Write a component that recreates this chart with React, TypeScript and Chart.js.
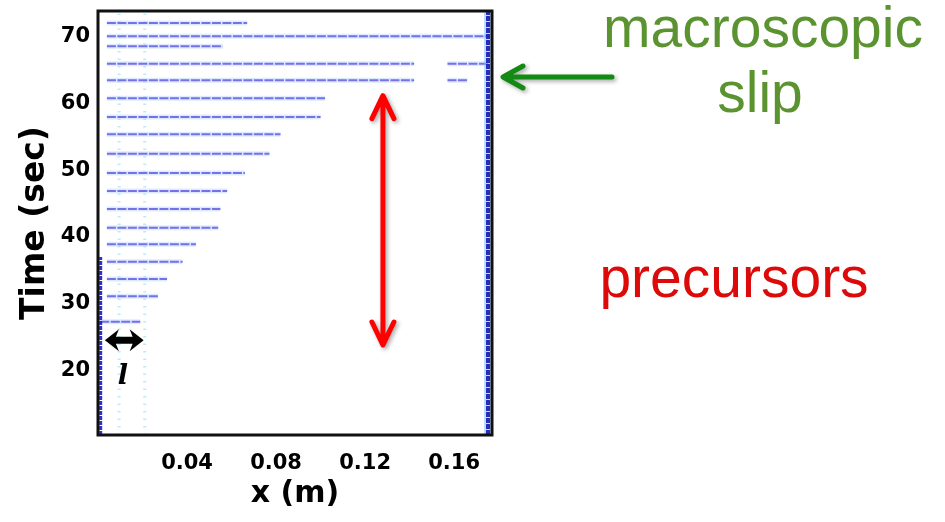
import React, { useEffect, useRef } from "react";
import { Chart, registerables } from "chart.js";

Chart.register(...registerables);

// Axes
const yTicks = [20, 30, 40, 50, 60, 70];
const xTicks = [0.04, 0.08, 0.12, 0.16];
const yMin = 10.3;
const yMax = 73.9;
const xMin = 0;
const xMax = 0.177;

// Precursor slip segments: time (s), start x (m), end x (m)
const segTime = [72.1, 70.1, 68.6, 66.0, 66.0, 63.5, 63.5, 60.8, 58.0, 55.4, 52.5, 49.6, 46.9, 44.2, 41.4, 38.9, 36.3, 33.7, 31.1, 27.3];
const segStart = [0.004, 0.004, 0.004, 0.004, 0.157, 0.004, 0.157, 0.004, 0.004, 0.004, 0.004, 0.004, 0.004, 0.004, 0.004, 0.004, 0.004, 0.004, 0.004, 0.001];
const segEnd = [0.067, 0.176, 0.056, 0.142, 0.176, 0.142, 0.166, 0.102, 0.100, 0.082, 0.077, 0.066, 0.058, 0.055, 0.054, 0.044, 0.038, 0.031, 0.027, 0.019];

// Edge bands (dense detections at the sample edges)
const rightEdgeX = 0.1752;
const rightEdgeT = [10.3, 73.9];
const leftEdgeX = 0.0012;
const leftEdgeT = [10.3, 37.0];
// Faint noise columns
const noiseX = [0.0095, 0.021];
const noiseT = [10.3, 73.5];

// Annotations
const lengthArrow = { t: 24.5, x0: 0.0031, x1: 0.0205 };
const lengthLabel = { t: 19.0, x: 0.0112, text: "l" };
const precursorArrow = { x: 0.128, t0: 61.2, t1: 23.8 };
const slipArrowT = 64.0;

export default function App() {
  const ref = useRef<HTMLCanvasElement | null>(null);

  useEffect(() => {
    if (!ref.current) return;
    const layers: any[] = []; // bottom to top

    // noise columns
    noiseX.forEach((x) => {
      layers.push({
        data: [{ x, y: noiseT[0] }, { x, y: noiseT[1] }],
        borderColor: "rgba(120,215,245,0.5)",
        borderWidth: 3,
        borderDash: [1.5, 6],
        pointRadius: 0,
        showLine: true,
      });
    });

    // halos
    segTime.forEach((t, i) => {
      layers.push({
        data: [{ x: segStart[i], y: t }, { x: segEnd[i], y: t }],
        borderColor: "rgba(170,205,255,0.4)",
        borderWidth: 5,
        pointRadius: 0,
        showLine: true,
      });
    });
    segTime.forEach((t, i) => {
      layers.push({
        data: [{ x: segStart[i], y: t }, { x: segEnd[i], y: t }],
        borderColor: "rgba(100,92,228,0.85)",
        borderWidth: 2,
        borderDash: [9, 1.5],
        pointRadius: 0,
        showLine: true,
      });
    });

    // edge bands
    layers.push({
      data: [{ x: rightEdgeX, y: rightEdgeT[0] }, { x: rightEdgeX, y: rightEdgeT[1] }],
      borderColor: "rgba(120,190,255,0.5)",
      borderWidth: 8,
      pointRadius: 0,
      showLine: true,
    });
    layers.push({
      data: [{ x: rightEdgeX, y: rightEdgeT[0] }, { x: rightEdgeX, y: rightEdgeT[1] }],
      borderColor: "rgba(25,25,175,0.9)",
      borderWidth: 4,
      borderDash: [5, 1],
      pointRadius: 0,
      showLine: true,
    });
    layers.push({
      data: [{ x: leftEdgeX, y: leftEdgeT[0] }, { x: leftEdgeX, y: leftEdgeT[1] }],
      borderColor: "rgba(25,25,190,0.9)",
      borderWidth: 3,
      borderDash: [4, 1],
      pointRadius: 0,
      showLine: true,
    });

    // Chart.js paints dataset 0 last (on top), so reverse the layer list
    const datasets = layers.slice().reverse();

    const overlay = {
      id: "overlay",
      afterDatasetsDraw(chart: any) {
        const ctx = chart.ctx;
        const xs = chart.scales.x;
        const ys = chart.scales.y;
        const ca = chart.chartArea;
        ctx.save();

        // frame
        ctx.strokeStyle = "#111";
        ctx.lineWidth = 3;
        ctx.strokeRect(ca.left, ca.top, ca.right - ca.left, ca.bottom - ca.top);

        // black double arrow (length l)
        const ay = ys.getPixelForValue(lengthArrow.t);
        const ax0 = xs.getPixelForValue(lengthArrow.x0);
        const ax1 = xs.getPixelForValue(lengthArrow.x1);
        ctx.fillStyle = "#000";
        ctx.beginPath();
        ctx.moveTo(ax0, ay);
        ctx.lineTo(ax0 + 14, ay - 11);
        ctx.lineTo(ax0 + 11, ay - 3.5);
        ctx.lineTo(ax1 - 11, ay - 3.5);
        ctx.lineTo(ax1 - 14, ay - 11);
        ctx.lineTo(ax1, ay);
        ctx.lineTo(ax1 - 14, ay + 11);
        ctx.lineTo(ax1 - 11, ay + 3.5);
        ctx.lineTo(ax0 + 11, ay + 3.5);
        ctx.lineTo(ax0 + 14, ay + 11);
        ctx.closePath();
        ctx.fill();

        // l label
        ctx.font = "bold italic 27px 'DejaVu Serif'";
        ctx.textAlign = "center";
        ctx.textBaseline = "middle";
        ctx.fillText(lengthLabel.text, xs.getPixelForValue(lengthLabel.x), ys.getPixelForValue(lengthLabel.t));

        // red double arrow
        const rx = xs.getPixelForValue(precursorArrow.x);
        const ry0 = ys.getPixelForValue(precursorArrow.t0);
        const ry1 = ys.getPixelForValue(precursorArrow.t1);
        ctx.shadowColor = "rgba(0,0,0,0.35)";
        ctx.shadowBlur = 4;
        ctx.shadowOffsetX = 2;
        ctx.shadowOffsetY = 2;
        ctx.strokeStyle = "#ff0000";
        ctx.lineWidth = 5;
        ctx.lineCap = "round";
        ctx.lineJoin = "round";
        ctx.beginPath();
        ctx.moveTo(rx, ry0 + 2);
        ctx.lineTo(rx, ry1 - 2);
        ctx.moveTo(rx - 11, ry0 + 23);
        ctx.lineTo(rx, ry0);
        ctx.lineTo(rx + 11, ry0 + 23);
        ctx.moveTo(rx - 11, ry1 - 23);
        ctx.lineTo(rx, ry1);
        ctx.lineTo(rx + 11, ry1 - 23);
        ctx.stroke();

        // green arrow
        const gy = ys.getPixelForValue(slipArrowT);
        const gx = ca.right + 11;
        ctx.strokeStyle = "#138a13";
        ctx.beginPath();
        ctx.moveTo(gx + 2, gy);
        ctx.lineTo(gx + 109, gy);
        ctx.moveTo(gx + 20, gy - 11);
        ctx.lineTo(gx, gy);
        ctx.lineTo(gx + 20, gy + 11);
        ctx.stroke();
        ctx.shadowColor = "transparent";
        ctx.shadowBlur = 0;
        ctx.shadowOffsetX = 0;
        ctx.shadowOffsetY = 0;

        // labels
        ctx.font = "57px 'Liberation Sans'";
        ctx.textAlign = "center";
        ctx.textBaseline = "alphabetic";
        ctx.fillStyle = "#5b9330";
        ctx.fillText("macroscopic", 763, 47);
        ctx.fillText("slip", 760, 112);
        ctx.fillStyle = "#dd0a0a";
        ctx.fillText("precursors", 734, 297);

        ctx.restore();
      },
    };

    const chart = new Chart(ref.current, {
      type: "scatter",
      data: { datasets },
      options: {
        animation: false,
        responsive: false,
        maintainAspectRatio: false,
        devicePixelRatio: 1,
        layout: { padding: { left: 0, top: 11, right: 453, bottom: 0 } },
        plugins: { legend: { display: false }, tooltip: { enabled: false } },
        scales: {
          x: {
            type: "linear",
            min: xMin,
            max: xMax,
            grid: { display: false, drawTicks: false },
            border: { display: false },
            afterBuildTicks: (s: any) => {
              s.ticks = xTicks.map((v) => ({ value: v }));
            },
            afterFit: (s: any) => {
              s.height = 87;
              s.paddingLeft = 0;
              s.paddingRight = 0;
            },
            ticks: {
              padding: 16,
              color: "#000",
              font: { family: "DejaVu Sans", weight: "bold", size: 21 },
              callback: (v: any) => Number(v).toFixed(2),
            },
            title: {
              display: true,
              text: "x (m)",
              color: "#000",
              font: { family: "DejaVu Sans", weight: "bold", size: 30, lineHeight: 1 },
              padding: { top: 0, bottom: 13 },
            },
          },
          y: {
            type: "linear",
            min: yMin,
            max: yMax,
            grid: { display: false, drawTicks: false },
            border: { display: false },
            afterBuildTicks: (s: any) => {
              s.ticks = yTicks.map((v) => ({ value: v }));
            },
            afterFit: (s: any) => {
              s.width = 98;
              s.paddingTop = 0;
              s.paddingBottom = 0;
            },
            ticks: {
              padding: 8,
              color: "#000",
              font: { family: "DejaVu Sans", weight: "bold", size: 21 },
              callback: (v: any) => String(v),
            },
            title: {
              display: true,
              text: "Time (sec)",
              color: "#000",
              font: { family: "DejaVu Sans", weight: "bold", size: 33, lineHeight: 1 },
              padding: { top: 19, bottom: 0 },
            },
          },
        },
      },
      plugins: [overlay],
    } as any);

    return () => chart.destroy();
  }, []);

  return (
    <div style={{ position: "fixed", left: 0, top: 0, width: 945, height: 522, background: "#fff" }}>
      <canvas ref={ref} width={945} height={522} style={{ width: 945, height: 522, display: "block" }} />
    </div>
  );
}
